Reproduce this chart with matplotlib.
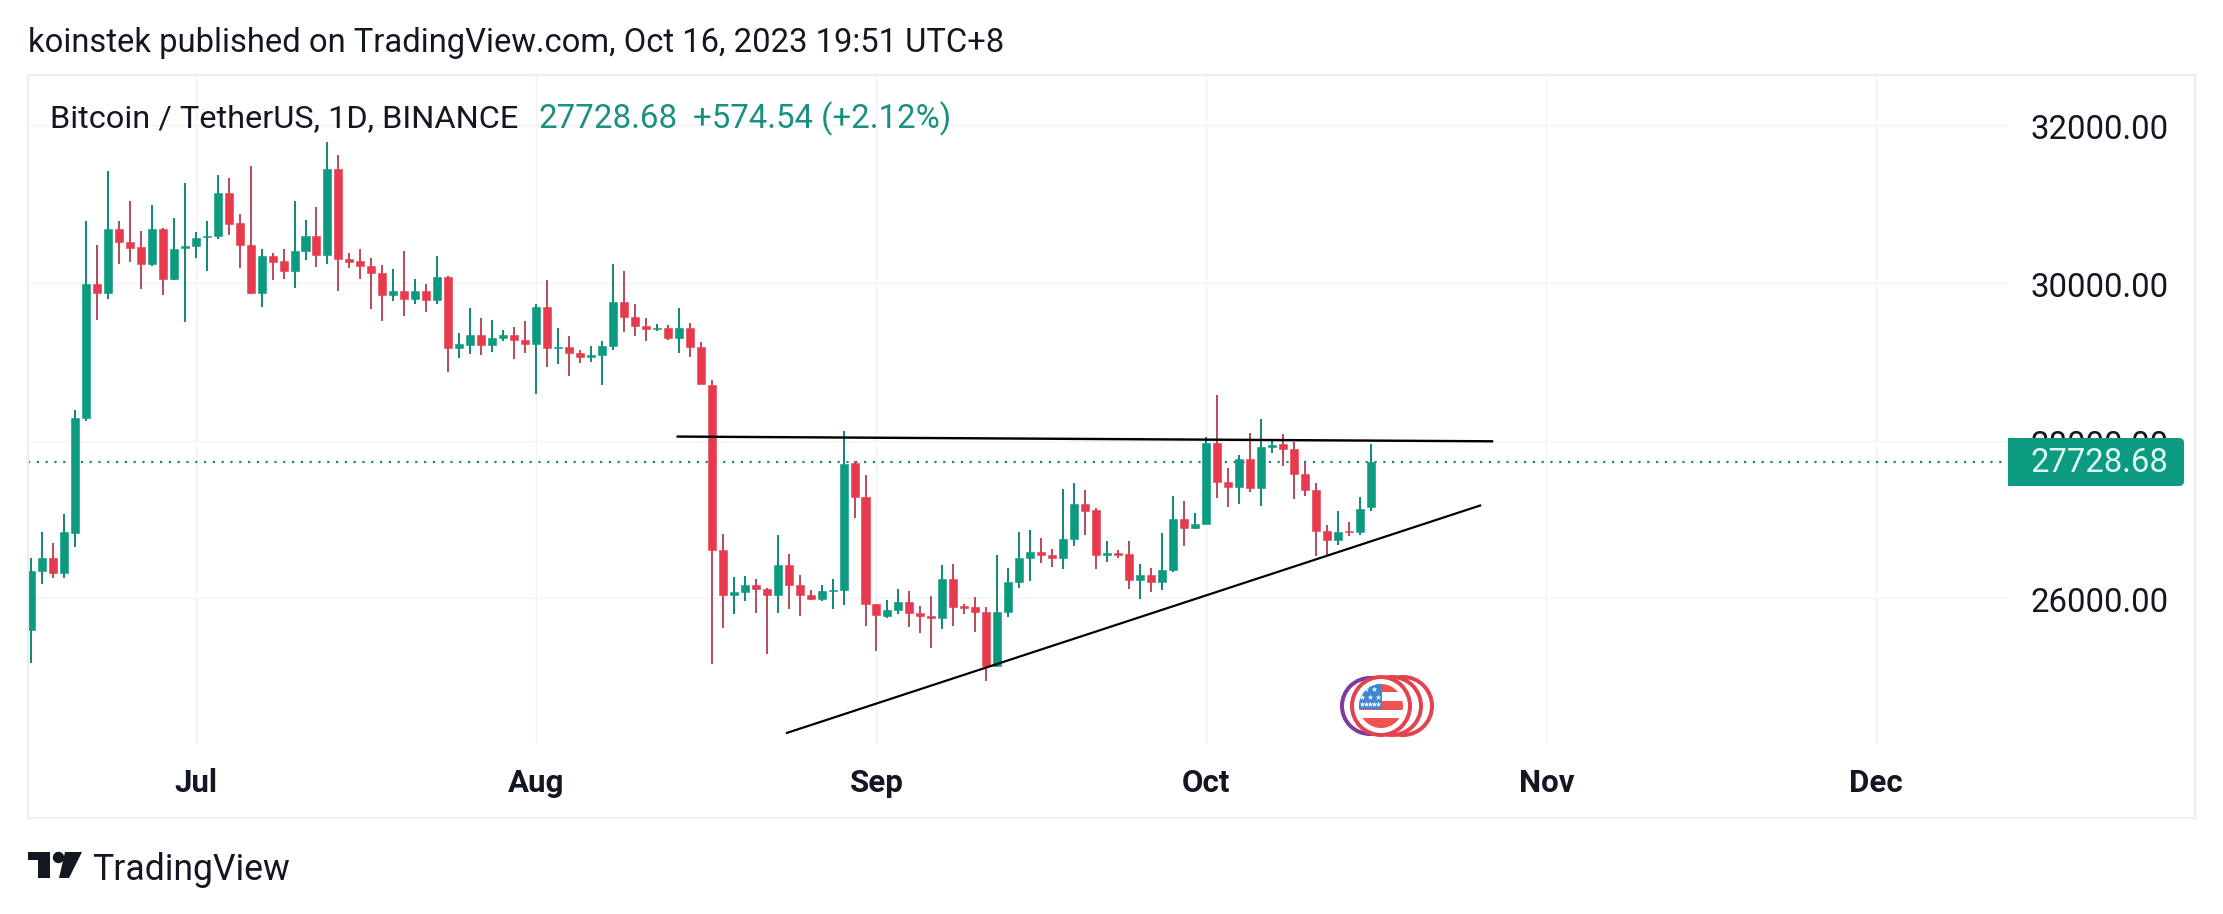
import matplotlib
matplotlib.use('Agg')
import matplotlib.pyplot as plt
from matplotlib.patches import Circle, Rectangle, Polygon, FancyBboxPatch
from matplotlib.transforms import ScaledTranslation
import numpy as np

W, H = 2223, 914

# daily candles, Jun 16 to Oct 16 2023
opens = [25592, 26338, 26504, 26323, 26830, 28291, 29980, 29866, 30679, 30519,
         30451, 30239, 30679, 30052, 30441, 30462, 30581, 30601, 31135, 30757,
         30487, 29876, 30342, 30275, 30146, 30405, 30601, 30358, 31441, 30301,
         30280, 30218, 30127, 29843, 29898, 29793, 29898, 29780, 30080, 29175,
         29217, 29340, 29209, 29298, 29340, 29277, 29222, 29695, 29171, 29188,
         29116, 29065, 29082, 29196, 29763, 29569, 29459, 29412, 29433, 29298,
         29429, 29188, 28703, 26609, 26034, 26072, 26169, 26114, 26034, 26419,
         26165, 26038, 25987, 26085, 26097, 27717, 27282, 25924, 25776, 25843,
         25949, 25810, 25772, 25746, 26241, 25898, 25886, 25822, 25141, 25818,
         26203, 26508, 26588, 26550, 26508, 26749, 27197, 27112, 26550, 26571,
         26563, 26228, 26296, 26203, 26351, 27007, 26888, 26939, 27971, 27476,
         27409, 27768, 27396, 27916, 27950, 27895, 27578, 27375, 26854, 26736,
         26854, 26833, 27154.14]
closes = [26338, 26504, 26323, 26836, 28291, 29980, 29866, 30679, 30519, 30446,
          30244, 30679, 30052, 30436, 30462, 30575, 30601, 31135, 30752, 30487,
          29876, 30337, 30270, 30146, 30399, 30601, 30358, 31441, 30301, 30270,
          30218, 30125, 29843, 29898, 29793, 29898, 29780, 30076, 29175, 29230,
          29340, 29209, 29302, 29344, 29272, 29222, 29695, 29175, 29188, 29107,
          29057, 29082, 29201, 29763, 29564, 29450, 29412, 29429, 29298, 29429,
          29184, 28714, 26609, 26034, 26076, 26169, 26110, 26034, 26419, 26161,
          26034, 25983, 26085, 26102, 27705, 27277, 25920, 25780, 25848, 25949,
          25805, 25767, 25742, 26241, 25882, 25873, 25818, 25141, 25822, 26203,
          26508, 26588, 26546, 26508, 26753, 27197, 27104, 26546, 26567, 26550,
          26228, 26296, 26203, 26360, 27007, 26888, 26943, 27971, 27472, 27409,
          27768, 27392, 27920, 27946, 27887, 27578, 27375, 26850, 26732, 26842,
          26833, 27134, 27728.68]
highs = [26509, 26836, 26696, 27063, 28390, 30783, 30487, 31420, 30783, 31037,
         30653, 30985, 30695, 30829, 31264, 30643, 30783, 31363, 31337, 30871,
         31477, 30436, 30373, 30425, 31037, 30793, 30969, 31782, 31617, 30373,
         30425, 30322, 30228, 30178, 30406, 30051, 29987, 30343, 30093, 29365,
         29683, 29556, 29530, 29404, 29442, 29518, 29734, 30038, 29429, 29327,
         29146, 29196, 29264, 30241, 30152, 29734, 29556, 29480, 29467, 29683,
         29492, 29251, 28766, 26812, 26266, 26279, 26241, 26127, 26799, 26558,
         26292, 26102, 26165, 26241, 28119, 27743, 27561, 25930, 25975, 26114,
         26089, 25898, 26025, 26419, 26431, 25924, 26008, 25886, 26546, 26381,
         26838, 26867, 26766, 26618, 27387, 27464, 27375, 27146, 26728, 26613,
         26728, 26436, 26385, 26829, 27299, 27235, 27083, 28047, 28572, 27654,
         27815, 28098, 28276, 28013, 28077, 27975, 27717, 27459, 26931, 27108,
         26969, 27277, 27959]
lows = [25183, 26183, 26261, 26261, 26654, 28250, 29524, 29798, 30244, 30270,
        29928, 30218, 29850, 30042, 29498, 30316, 30156, 30560, 30612, 30192,
        29855, 29700, 30042, 30052, 29938, 30296, 30208, 30244, 29902, 30192,
        30052, 29664, 29514, 29767, 29577, 29729, 29628, 29729, 28866, 29044,
        29095, 29082, 29120, 29260, 29031, 29107, 28591, 28930, 28968, 28816,
        28981, 28997, 28701, 29150, 29374, 29323, 29260, 29387, 29277, 29107,
        29057, 28714, 25162, 25619, 25797, 25958, 25805, 25285, 25805, 25856,
        25767, 25975, 25958, 25856, 25907, 27011, 25640, 25323, 25742, 25793,
        25628, 25552, 25361, 25602, 25640, 25793, 25564, 24951, 25120, 25755,
        26123, 26216, 26444, 26393, 26368, 26660, 26799, 26368, 26457, 26508,
        26114, 25987, 26076, 26102, 26330, 26660, 26876, 26939, 27269, 27155,
        27193, 27345, 27167, 27840, 27675, 27256, 27294, 26533, 26541, 26673,
        26787, 26799, 27108]

month_pos = [15, 46, 77, 107, 138, 168]  # candles since Jun 16
month_labels = ['Jul', 'Aug', 'Sep', 'Oct', 'Nov', 'Dec']
price_ticks = [26000, 28000, 30000, 32000]
last_price = 27728.68

# hand drawn lines on the chart, (candle index, price)
resistance_x = [58.9, 133.06]
resistance_y = [28050, 27990]
support_x = [68.85, 131.97]
support_y = [24290, 27175]

GREEN = '#0c9a80'
TEXT_GREEN = '#1a9080'
RED = '#e73a4c'
WICK_GREEN = '#17897c'
WICK_RED = '#b84e5e'
INK = '#131722'
GRID = '#f1f2f3'
BORDER = '#eeeeee'
LW1 = 72 / 100  # one pixel in points

plt.rcParams['font.family'] = ['Roboto', 'DejaVu Sans']

fig = plt.figure(figsize=(W / 100, H / 100), dpi=100, facecolor='white')

# chart pane, 28..2008 px across, 75..744 px down
ax = fig.add_axes([28 / W, 1 - 744 / H, (2008 - 28) / W, (744 - 75) / H])
ax.set_xlim(-0.273, 180.05)
ax.set_ylim(24149, 32638)
for s in ax.spines.values():
    s.set_visible(False)

ax.set_axisbelow(True)
ax.grid(True, color=GRID, linewidth=1.4 * LW1)
ax.set_xticks(month_pos)
ax.set_xticklabels(month_labels, fontsize=22.5, fontweight='bold', color=INK)
ax.set_yticks(price_ticks)
ax.set_yticklabels(['%.2f' % p for p in price_ticks], fontsize=23.7, color=INK)
ax.yaxis.tick_right()
ax.tick_params(axis='x', length=0, pad=17)
ax.tick_params(axis='y', length=0, pad=16)
nudge = ScaledTranslation(0, -1.5 / 100, fig.dpi_scale_trans)
for label in ax.get_yticklabels():
    label.set_transform(label.get_transform() + nudge)

opens = np.array(opens)
closes = np.array(closes)
idx = np.arange(len(opens))
up = closes >= opens

ax.vlines(idx[up], np.array(lows)[up], np.array(highs)[up], color=WICK_GREEN, linewidth=2 * LW1, zorder=3)
ax.vlines(idx[~up], np.array(lows)[~up], np.array(highs)[~up], color=WICK_RED, linewidth=2 * LW1, zorder=3)
ax.bar(idx[up], (closes - opens)[up], bottom=opens[up], width=0.73, color=GREEN, edgecolor=GREEN, linewidth=0.4, zorder=4)
ax.bar(idx[~up], (closes - opens)[~up], bottom=opens[~up], width=0.73, color=RED, edgecolor=RED, linewidth=0.4, zorder=4)

ax.axhline(last_price, color=WICK_GREEN, linewidth=2.2 * LW1, linestyle=(0, (1, 3)), zorder=2)
ax.plot(resistance_x, resistance_y, color='black', linewidth=2.4 * LW1, zorder=5)
ax.plot(support_x, support_y, color='black', linewidth=2.2 * LW1, zorder=5)

# everything else is page furniture, in pixel coordinates
over = fig.add_axes([0, 0, 1, 1], zorder=5)
over.set_xlim(0, W)
over.set_ylim(H, 0)
over.axis('off')
over.patch.set_alpha(0)

over.add_patch(Rectangle((28, 75), 2167, 743, fill=False, edgecolor=BORDER, linewidth=2.2 * LW1))

over.text(28, 43, 'koinstek published on TradingView.com, Oct 16, 2023 19:51 UTC+8', fontsize=23.6, color=INK, va='center')
over.text(50, 119, 'Bitcoin / TetherUS, 1D, BINANCE', fontsize=23.4, color=INK, va='center')
over.text(539, 119, '27728.68', fontsize=23.9, color=TEXT_GREEN, va='center')
over.text(693, 119, '+574.54 (+2.12%)', fontsize=23.8, color=TEXT_GREEN, va='center')
over.text(92, 870, 'TradingView', fontsize=25.7, color=INK, va='center')

# last price tag
over.add_patch(FancyBboxPatch((2014, 438), 170, 48, boxstyle='round,pad=0,rounding_size=5', facecolor=GREEN, edgecolor='none'))
over.add_patch(Rectangle((2008, 438), 14, 48, facecolor=GREEN, edgecolor='none'))
over.text(2030, 463, '27728.68', fontsize=23.7, color='#dffaf3', va='center')

# TradingView mark
over.add_patch(Polygon([(28, 852), (50, 852), (50, 878), (38, 878), (38, 860), (28, 860)], color=INK, linewidth=0))
over.add_patch(Circle((58.5, 857.5), 5.7, color=INK, linewidth=0))
over.add_patch(Polygon([(65, 852), (82, 852), (69, 878), (59, 878)], color=INK, linewidth=0))

# coin logo
over.add_patch(Circle((1403, 706), 29, fill=False, edgecolor='#e2434f', linewidth=4 * LW1))
over.add_patch(Circle((1392, 706), 29, facecolor='white', edgecolor='#e2434f', linewidth=4 * LW1))
over.add_patch(Circle((1370, 706), 28, fill=False, edgecolor='#7f3aa0', linewidth=4 * LW1))
over.add_patch(Circle((1381, 706), 29, facecolor='white', edgecolor='#e2434f', linewidth=4 * LW1))
clip = Circle((1381, 706), 22, transform=over.transData)
for top, bottom in [(684, 692), (701, 710), (718, 728)]:
    over.add_patch(Rectangle((1355, top), 52, bottom - top, facecolor='#ef5350', edgecolor='none', clip_path=clip))
over.add_patch(Rectangle((1355, 684), 27, 25, facecolor='#3d86d8', edgecolor='none', clip_path=clip))
star_x = [1366, 1374, 1362, 1370, 1378, 1366, 1374, 1362, 1370, 1378]
star_y = [689, 689, 697, 697, 697, 704, 704, 704, 704, 704]
over.scatter(star_x, star_y, s=18, marker='*', color='white', linewidths=0, clip_path=clip)

fig.savefig('out.png', dpi=100, facecolor='white')
